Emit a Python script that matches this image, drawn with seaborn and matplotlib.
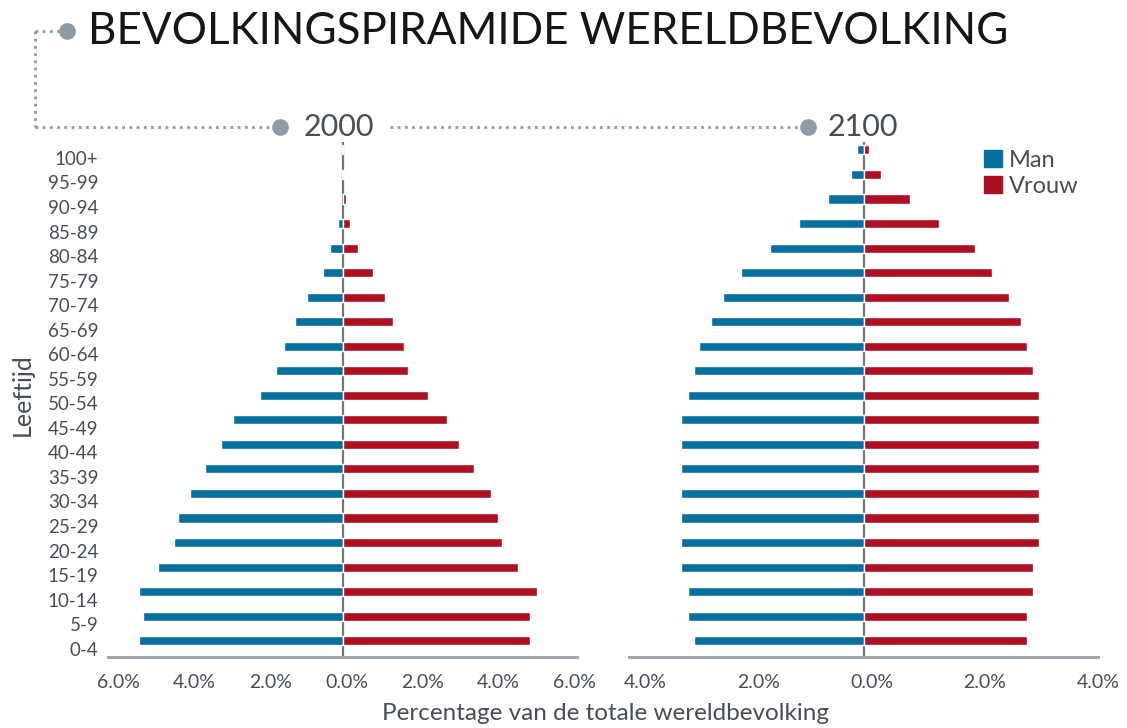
import matplotlib
matplotlib.use("Agg")
import matplotlib.pyplot as plt
import seaborn as sns
import pandas as pd
from matplotlib.lines import Line2D
from matplotlib.transforms import ScaledTranslation

# ---------------- data ----------------
ages = ['100+', '95-99', '90-94', '85-89', '80-84', '75-79', '70-74', '65-69',
        '60-64', '55-59', '50-54', '45-49', '40-44', '35-39', '30-34', '25-29',
        '20-24', '15-19', '10-14', '5-9', '0-4']

man_2000 = [0.01, 0.01, 0.03, 0.12, 0.32, 0.52, 0.94, 1.24, 1.54, 1.74, 2.17,
            2.87, 3.19, 3.61, 4.01, 4.32, 4.43, 4.85, 5.35, 5.25, 5.35]
vrouw_2000 = [0.02, 0.03, 0.10, 0.20, 0.40, 0.81, 1.13, 1.33, 1.63, 1.73, 2.26,
              2.76, 3.06, 3.47, 3.90, 4.10, 4.20, 4.61, 5.13, 4.93, 4.93]

man_2100 = [0.11, 0.22, 0.63, 1.14, 1.66, 2.17, 2.48, 2.69, 2.91, 3.00, 3.11,
            3.22, 3.22, 3.22, 3.22, 3.22, 3.22, 3.22, 3.11, 3.11, 3.00]
vrouw_2100 = [0.10, 0.31, 0.82, 1.34, 1.97, 2.27, 2.58, 2.79, 2.89, 3.00, 3.10,
              3.10, 3.10, 3.10, 3.10, 3.10, 3.10, 3.00, 3.00, 2.89, 2.89]

years = ['2000', '2100']
sexes = ['Man', 'Vrouw']
ticks_2000 = [-6, -4, -2, 0, 2, 4, 6]
ticks_2100 = [-4, -2, 0, 2, 4]

title = 'BEVOLKINGSPIRAMIDE WERELDBEVOLKING'
xlabel = 'Percentage van de totale wereldbevolking'
ylabel = 'Leeftijd'

# ---------------- style ----------------
BLUE = '#05709E'
RED = '#AE1022'
TXT = '#474E55'
AXC = '#A0A8AF'
ZERO = '#6F767D'
DOT = '#8C9BA8'

sns.set_theme(style='white')
plt.rcParams['font.family'] = ['Lato', 'DejaVu Sans']

W, H = 1127, 728
fig = plt.figure(figsize=(W / 100, H / 100), dpi=100)


def fx(x):
    return x / W


def fy(y):
    return 1 - y / H


def make_df(man, vrouw):
    return pd.DataFrame({
        'Leeftijd': ages + ages,
        'Waarde': [-v for v in man] + list(vrouw),
        'Geslacht': ['Man'] * len(ages) + ['Vrouw'] * len(ages),
    })


ax_top, ax_bot = 142, 657
row0 = 640.7          # pixel centre of 0-4 row
row_step = 24.54
top_lim_rows = (row0 - ax_top) / row_step - 20
bot_lim_rows = (ax_bot - row0) / row_step

panels = [
    (years[0], man_2000, vrouw_2000, 108, 577, 6.17, ticks_2000, 4),
    (years[1], man_2100, vrouw_2100, 629, 1098, 4.145, ticks_2100, 8),
]

axes = []
for yr, man, vrouw, x0, x1, lim, ticks, xoff in panels:
    ax = fig.add_axes([fx(x0), fy(ax_bot), (x1 - x0) / W, (ax_bot - ax_top) / H])
    df = make_df(man, vrouw)
    sns.barplot(data=df, x='Waarde', y='Leeftijd', hue='Geslacht',
                order=ages, hue_order=sexes, palette=[BLUE, RED],
                dodge=False, width=0.37, orient='h', legend=False,
                saturation=1, ax=ax)
    ax.set_xlim(-lim, lim)
    ax.set_ylim(20 + bot_lim_rows, -top_lim_rows)
    ax.axvline(0, color=ZERO, lw=1.6, zorder=0)
    for s in ['top', 'right', 'left']:
        ax.spines[s].set_visible(False)
    ax.spines['bottom'].set_color(AXC)
    ax.spines['bottom'].set_linewidth(2.2)
    ax.set_xticks(ticks)
    ax.set_xticklabels([f'{abs(t):.1f}%' for t in ticks])
    ax.tick_params(axis='x', length=0, pad=12, labelsize=14, labelcolor=TXT)
    for lab in ax.get_xticklabels():
        lab.set_transform(lab.get_transform() + ScaledTranslation(xoff / 100, 0, fig.dpi_scale_trans))
    ax.set_xlabel('')
    ax.set_ylabel('')
    ax.grid(False)
    ax.set_facecolor('none')
    axes.append(ax)

axl, axr = axes
axl.tick_params(axis='y', length=0, pad=7, labelsize=13.5, labelcolor=TXT)
for lab in axl.get_yticklabels():
    lab.set_transform(lab.get_transform() + ScaledTranslation(0, -8 / 100, fig.dpi_scale_trans))
axr.set_yticks([])

# axis titles
fig.text(fx(606), fy(713), xlabel, ha='center', va='center', fontsize=17.5, color=TXT)
fig.text(fx(22), fy(395), ylabel, ha='center', va='center', rotation=90, fontsize=18, color=TXT)

# legend
handles = [plt.Rectangle((0, 0), 1, 1, color=BLUE), plt.Rectangle((0, 0), 1, 1, color=RED)]
fig.legend(handles, sexes, loc='upper left', bbox_to_anchor=(fx(984), fy(150)),
           frameon=False, fontsize=17, handlelength=0.75, handleheight=0.75,
           handletextpad=0.3, labelspacing=0.2, borderpad=0, borderaxespad=0,
           labelcolor=TXT)

# decorative dotted connectors + dots
dot_style = dict(color=DOT, lw=2, linestyle=(0, (1, 1.6)), transform=fig.transFigure)
fig.add_artist(Line2D([fx(35), fx(62)], [fy(31), fy(31)], **dot_style))
fig.add_artist(Line2D([fx(35), fx(35)], [fy(31), fy(127)], **dot_style))
fig.add_artist(Line2D([fx(35), fx(272)], [fy(127), fy(127)], **dot_style))
fig.add_artist(Line2D([fx(390), fx(798)], [fy(127), fy(127)], **dot_style))
for px, py in [(67, 31), (280, 127), (808, 127)]:
    fig.add_artist(Line2D([fx(px)], [fy(py)], marker='o', markersize=11,
                          color=DOT, transform=fig.transFigure))

fig.text(fx(304), fy(127), years[0], ha='left', va='center', fontsize=22, color=TXT)
fig.text(fx(828), fy(127), years[1], ha='left', va='center', fontsize=22, color=TXT)

# title, fitted to the reference width
t = fig.text(fx(88), fy(31), title, ha='left', va='center', fontsize=32, color='#161616')
fig.canvas.draw()
w = t.get_window_extent(fig.canvas.get_renderer()).width
t.set_fontsize(32 * 925 / w)

fig.savefig('out.png', dpi=100)
